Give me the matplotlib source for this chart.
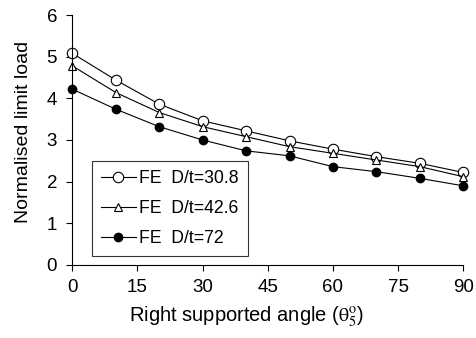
import matplotlib
matplotlib.use("Agg")
import matplotlib.pyplot as plt

# angulo soportado (grados) y carga limite normalizada
angle = [0, 10, 20, 30, 40, 50, 60, 70, 80, 90]
load_dt30 = [5.08, 4.44, 3.86, 3.46, 3.22, 2.98, 2.78, 2.60, 2.44, 2.22]
load_dt42 = [4.78, 4.14, 3.66, 3.32, 3.08, 2.84, 2.68, 2.52, 2.36, 2.12]
load_dt72 = [4.22, 3.74, 3.32, 3.00, 2.74, 2.62, 2.36, 2.24, 2.08, 1.90]

labels = ["FE  D/t=30.8", "FE  D/t=42.6", "FE  D/t=72"]
x_ticks = [0, 15, 30, 45, 60, 75, 90]
y_ticks = [0, 1, 2, 3, 4, 5, 6]

plt.rcParams['font.family'] = ['Liberation Sans', 'DejaVu Sans']
plt.rcParams['mathtext.fontset'] = 'stix'

fig = plt.figure(figsize=(4.77, 3.38), dpi=100)
ax = fig.add_axes([0.1516, 0.216, 0.8197, 0.7396])

ax.plot(angle, load_dt30, color='black', lw=0.8, marker='o', ms=7.5,
        mfc='white', mec='black', mew=0.8, label=labels[0])
ax.plot(angle, load_dt42, color='black', lw=0.8, marker='^', ms=5.5,
        mfc='white', mec='black', mew=0.8, label=labels[1])
ax.plot(angle, load_dt72, color='black', lw=0.8, marker='o', ms=6,
        mfc='black', mec='black', label=labels[2])

ax.set_xlim(0, 90)
ax.set_ylim(0, 6)
ax.set_xticks(x_ticks)
ax.set_yticks(y_ticks)
ax.tick_params(labelsize=13.5, length=4, width=0.8, direction='out')
ax.tick_params(axis='x', pad=6)
ax.tick_params(axis='y', pad=7)
for side in ['top', 'right']:
    ax.spines[side].set_visible(False)
for side in ['left', 'bottom']:
    ax.spines[side].set_linewidth(0.8)

ax.set_xlabel(r'Right supported angle ($\mathrm{\theta}_5^{\rm o}$)', fontsize=14.5, ha='left')
ax.xaxis.set_label_coords(0.145, -0.158)
ax.set_ylabel('Normalised limit load', fontsize=14)
ax.yaxis.set_label_coords(-0.103, 0.532)

leg = ax.legend(loc='lower left', bbox_to_anchor=(0.05, 0.036), borderaxespad=0,
                fontsize=12.7, frameon=True, fancybox=False, edgecolor='black',
                handlelength=2.0, handletextpad=0.2, labelspacing=0.75,
                borderpad=0.5)
leg.get_frame().set_linewidth(0.8)
for line in ax.lines:
    line.set_clip_on(False)

fig.savefig("out.png", dpi=100)
